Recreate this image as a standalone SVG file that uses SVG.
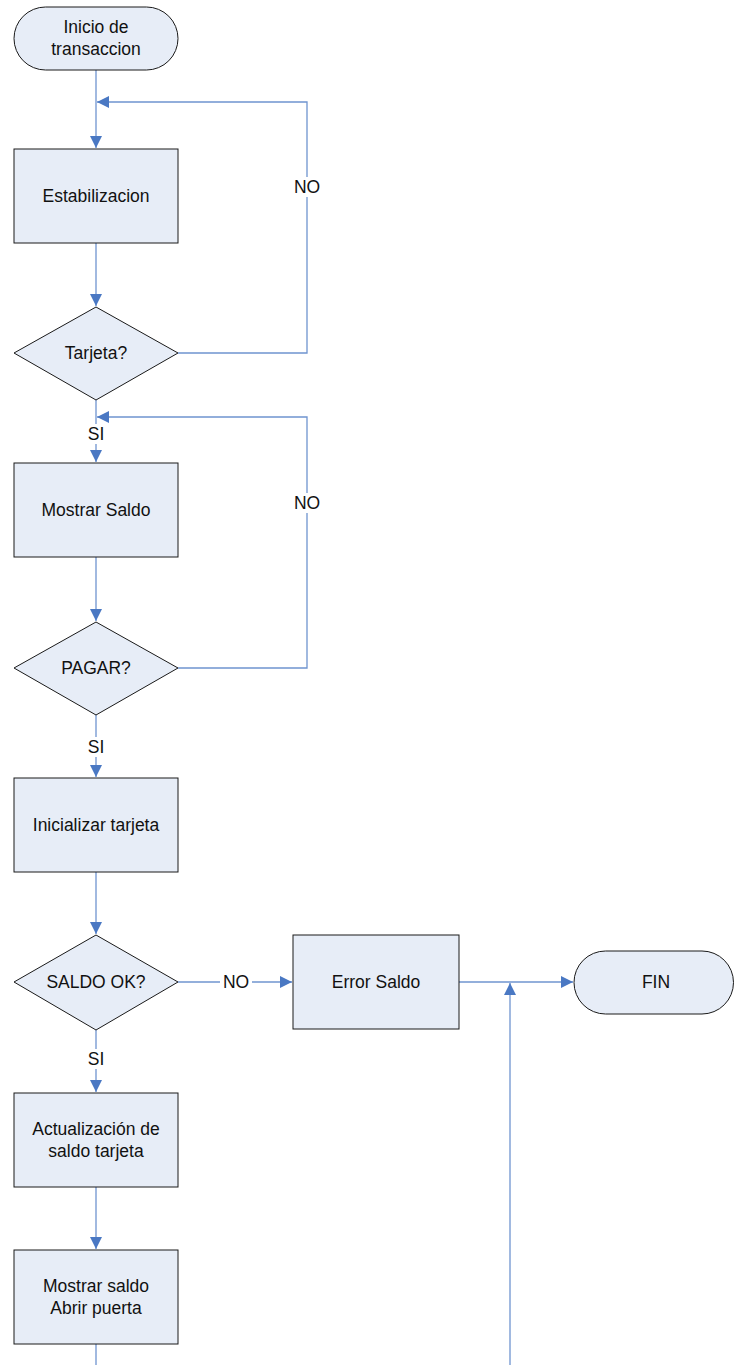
<svg xmlns="http://www.w3.org/2000/svg" width="734" height="1365" viewBox="0 0 734 1365">
<defs>
<style>
.n{fill:#E7EDF7;stroke:#1a1a1a;stroke-width:1}
.c{fill:none;stroke:#6F94CF;stroke-width:1.3}
.t{font-family:"Liberation Sans",Arial,sans-serif;font-size:17.5px;fill:#111;text-anchor:middle}
.lb{fill:#fff}
</style>
<marker id="a" markerWidth="12" markerHeight="12" refX="10" refY="5" orient="auto" markerUnits="userSpaceOnUse" viewBox="0 0 10 10">
<path d="M0,0 L10,5 L0,10 z" fill="#4A78C3"/>
</marker>
</defs>
<rect width="734" height="1365" fill="#fff"/>
<g id="connectors">
<path class="c" d="M96,70 V148" marker-end="url(#a)"/>
<path class="c" d="M178,353 H307 V102 H97" marker-end="url(#a)"/>
<path class="c" d="M96,243 V306" marker-end="url(#a)"/>
<path class="c" d="M96,400 V462" marker-end="url(#a)"/>
<path class="c" d="M178,668 H307 V417 H97" marker-end="url(#a)"/>
<path class="c" d="M96,557 V621" marker-end="url(#a)"/>
<path class="c" d="M96,715 V777" marker-end="url(#a)"/>
<path class="c" d="M96,872 V934" marker-end="url(#a)"/>
<path class="c" d="M178,982 H292" marker-end="url(#a)"/>
<path class="c" d="M459,982 H573" marker-end="url(#a)"/>
<path class="c" d="M510,1365 V983" marker-end="url(#a)"/>
<path class="c" d="M96,1030 V1092" marker-end="url(#a)"/>
<path class="c" d="M96,1187 V1249" marker-end="url(#a)"/>
<path class="c" d="M96,1344 V1365"/>
<rect class="lb" x="290" y="177" width="34" height="20"/>
<text class="t" x="307" y="193">NO</text>
<rect class="lb" x="290" y="493" width="34" height="20"/>
<text class="t" x="307" y="509">NO</text>
<rect class="lb" x="85" y="424" width="22" height="20"/>
<text class="t" x="96" y="440">SI</text>
<rect class="lb" x="85" y="737" width="22" height="20"/>
<text class="t" x="96" y="753">SI</text>
<rect class="lb" x="220" y="972" width="32" height="20"/>
<text class="t" x="236" y="988">NO</text>
<rect class="lb" x="85" y="1049" width="22" height="20"/>
<text class="t" x="96" y="1065">SI</text>
</g>
<g id="inicio">
<rect class="n" x="14" y="7" width="164" height="63" rx="31.5"/>
<text class="t" x="96" y="33">Inicio de</text>
<text class="t" x="96" y="55">transaccion</text>
</g>
<g id="estabilizacion">
<rect class="n" x="14" y="149" width="164" height="94"/>
<text class="t" x="96" y="202">Estabilizacion</text>
</g>
<g id="tarjeta">
<polygon class="n" points="96,307 178,353 96,400 14,353"/>
<text class="t" x="96" y="359">Tarjeta?</text>
</g>
<g id="mostrar-saldo">
<rect class="n" x="14" y="463" width="164" height="94"/>
<text class="t" x="96" y="516">Mostrar Saldo</text>
</g>
<g id="pagar">
<polygon class="n" points="96,622 178,668 96,715 14,668"/>
<text class="t" x="96" y="674">PAGAR?</text>
</g>
<g id="inicializar">
<rect class="n" x="14" y="778" width="164" height="94"/>
<text class="t" x="96" y="831">Inicializar tarjeta</text>
</g>
<g id="saldo-ok">
<polygon class="n" points="96,935 178,982 96,1030 14,982"/>
<text class="t" x="96" y="988">SALDO OK?</text>
</g>
<g id="error-saldo">
<rect class="n" x="293" y="935" width="166" height="94"/>
<text class="t" x="376" y="988">Error Saldo</text>
</g>
<g id="fin">
<rect class="n" x="574" y="951" width="159.5" height="63" rx="31.5"/>
<text class="t" x="656" y="988">FIN</text>
</g>
<g id="actualizacion">
<rect class="n" x="14" y="1093" width="164" height="94"/>
<text class="t" x="96" y="1135">Actualización de</text>
<text class="t" x="96" y="1157">saldo tarjeta</text>
</g>
<g id="mostrar-abrir">
<rect class="n" x="14" y="1250" width="164" height="94"/>
<text class="t" x="96" y="1292">Mostrar saldo</text>
<text class="t" x="96" y="1314">Abrir puerta</text>
</g>
</svg>
